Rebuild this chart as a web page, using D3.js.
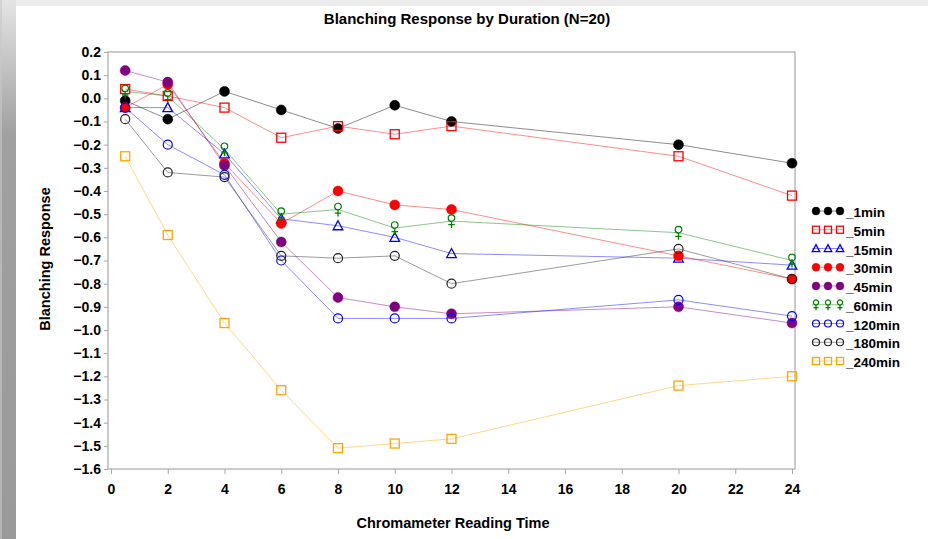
<!DOCTYPE html>
<html>
<head>
<meta charset="utf-8">
<script src="https://cdn.jsdelivr.net/npm/d3@7"></script>
<style>
  html, body { margin: 0; padding: 0; background: #fff; }
  svg { display: block; }
  text { font-family: "Liberation Sans", Arial, sans-serif; font-weight: bold; fill: #000; }
</style>
</head>
<body>
<svg id="chart" width="928" height="539"></svg>
<script>
// Reading times (hours) and mean blanching response per application duration
const readingTimes = [0.5, 2, 4, 6, 8, 10, 12, 20, 24];
const durations = ["_1min", "_5min", "_15min", "_30min", "_45min", "_60min", "_120min", "_180min", "_240min"];
const resp1min   = [-0.01, -0.09, 0.03, -0.05, -0.13, -0.03, -0.10, -0.20, -0.28];
const resp5min   = [0.04, 0.01, -0.04, -0.17, -0.12, -0.155, -0.12, -0.25, -0.42];
const resp15min  = [-0.04, -0.04, -0.24, -0.52, -0.55, -0.60, -0.67, -0.69, -0.72];
const resp30min  = [-0.04, 0.06, -0.28, -0.54, -0.40, -0.46, -0.48, -0.68, -0.78];
const resp45min  = [0.12, 0.07, -0.29, -0.62, -0.86, -0.90, -0.93, -0.90, -0.97];
const resp60min  = [0.03, 0.01, -0.22, -0.50, -0.48, -0.56, -0.53, -0.58, -0.70];
const resp120min = [-0.04, -0.20, -0.33, -0.70, -0.95, -0.95, -0.95, -0.87, -0.94];
const resp180min = [-0.09, -0.32, -0.34, -0.68, -0.69, -0.68, -0.80, -0.65, -0.78];
const resp240min = [-0.25, -0.59, -0.97, -1.26, -1.51, -1.49, -1.47, -1.24, -1.20];
const xTicks = [0, 2, 4, 6, 8, 10, 12, 14, 16, 18, 20, 22, 24];
const yTicks = d3.range(-16, 3).map(d => d / 10);

const seriesValues = [resp1min, resp5min, resp15min, resp30min, resp45min, resp60min, resp120min, resp180min, resp240min];
const seriesColors = ["#000000", "#ff0000", "#0000ff", "#ff0000", "#800080", "#008000", "#0000ff", "#222222", "#ffa500"];
const seriesSymbols = ["dot", "square", "triangle", "dot", "dot", "female", "circle", "circle", "square"];

const series = durations.map((name, i) => ({
  name, color: seriesColors[i], symbol: seriesSymbols[i],
  points: readingTimes.map((t, j) => ({ t, v: seriesValues[i][j] }))
}));

const svg = d3.select("#chart");

// Page frame: light top band and shaded left strip
const defs = svg.append("defs");
const grad = defs.append("linearGradient").attr("id", "strip").attr("x1", 0).attr("y1", 0).attr("x2", 0).attr("y2", 1);
grad.append("stop").attr("offset", "0").attr("stop-color", "#e4e4e4");
grad.append("stop").attr("offset", "0.25").attr("stop-color", "#a0a0a0");
grad.append("stop").attr("offset", "1").attr("stop-color", "#9a9a9a");
svg.append("rect").attr("x", 0).attr("y", 0).attr("width", 928).attr("height", 6).attr("fill", "#ececec");
svg.append("rect").attr("x", 0).attr("y", 0).attr("width", 16).attr("height", 539).attr("fill", "url(#strip)");
svg.append("rect").attr("x", 0).attr("y", 0).attr("width", 2).attr("height", 539).attr("fill", "#c8c8c8").attr("opacity", 0.6);

const box = { left: 108, right: 795, top: 52, bottom: 469 };
const x = d3.scaleLinear().domain([0, 24]).range([111, 792]);
const y = d3.scaleLinear().domain([-1.6, 0.2]).range([box.bottom, box.top]);

// Title and axis labels
svg.append("text").attr("x", 467).attr("y", 24).attr("text-anchor", "middle")
  .style("font-size", "15px").text("Blanching Response by Duration (N=20)");
svg.append("text").attr("x", 453).attr("y", 528).attr("text-anchor", "middle")
  .style("font-size", "14.5px").text("Chromameter Reading Time");
svg.append("text").attr("transform", "translate(50,259) rotate(-90)").attr("text-anchor", "middle")
  .style("font-size", "14.5px").text("Blanching Response");

// Plot frame
svg.append("rect").attr("x", box.left).attr("y", box.top)
  .attr("width", box.right - box.left).attr("height", box.bottom - box.top)
  .attr("fill", "none").attr("stroke", "#a8a8a8").attr("stroke-width", 1.2);

const fmtY = d => (d < 0 ? "\u2212" : "") + Math.abs(d).toFixed(1);

const gy = svg.append("g").attr("transform", `translate(${box.left},0)`)
  .call(d3.axisLeft(y).tickValues(yTicks).tickSize(4).tickPadding(3).tickFormat(fmtY));
const gx = svg.append("g").attr("transform", `translate(0,${box.bottom})`)
  .call(d3.axisBottom(x).tickValues(xTicks).tickSize(5).tickPadding(10).tickFormat(d3.format("d")));
[gy, gx].forEach(g => {
  g.select(".domain").remove();
  g.selectAll(".tick line").attr("stroke", "#a8a8a8");
  g.selectAll(".tick text").style("font-size", "14px").style("font-family", "'Liberation Sans', Arial, sans-serif")
    .style("font-weight", "bold").attr("fill", "#000");
});

// Marker drawing (k scales the symbol size)
function drawMarker(g, symbol, color, k) {
  if (symbol === "dot") {
    g.append("circle").attr("r", 5 * k).attr("fill", color).attr("stroke", color).attr("stroke-width", 0.5);
  } else if (symbol === "circle") {
    g.append("circle").attr("r", 4.5 * k).attr("fill", "none").attr("stroke", color).attr("stroke-width", 1.2);
  } else if (symbol === "square") {
    g.append("rect").attr("x", -4.5 * k).attr("y", -4.5 * k).attr("width", 9 * k).attr("height", 9 * k)
      .attr("fill", "none").attr("stroke", color).attr("stroke-width", 1.3);
  } else if (symbol === "triangle") {
    g.append("path").attr("d", `M0,${-5 * k}L${4.8 * k},${4 * k}L${-4.8 * k},${4 * k}Z`)
      .attr("fill", "none").attr("stroke", color).attr("stroke-width", 1.3);
  } else if (symbol === "female") {
    g.append("circle").attr("cy", -3 * k).attr("r", 3.3 * k).attr("fill", "none").attr("stroke", color).attr("stroke-width", 1.2);
    g.append("path").attr("d", `M0,${0.3 * k}V${7 * k}M${-3.2 * k},${3.6 * k}H${3.2 * k}`)
      .attr("fill", "none").attr("stroke", color).attr("stroke-width", 1.3);
  }
}

const line = d3.line().x(d => x(d.t)).y(d => y(d.v));

series.forEach(s => {
  svg.append("path").datum(s.points).attr("d", line)
    .attr("fill", "none").attr("stroke", s.color).attr("stroke-opacity", 0.45).attr("stroke-width", 1);
});
series.forEach(s => {
  s.points.forEach(p => {
    const g = svg.append("g").attr("transform", `translate(${x(p.t)},${y(p.v)})`);
    drawMarker(g, s.symbol, s.color, 1);
  });
});

// Legend
const legendY = d3.scalePoint().domain(durations).range([211, 361]);
series.forEach(s => {
  const ly = legendY(s.name);
  svg.append("line").attr("x1", 812).attr("x2", 844).attr("y1", ly).attr("y2", ly)
    .attr("stroke", s.color).attr("stroke-opacity", 0.45);
  [816, 828, 840].forEach(lx => {
    const g = svg.append("g").attr("transform", `translate(${lx},${ly})`);
    drawMarker(g, s.symbol, s.color, 0.78);
  });
  svg.append("text").attr("x", 846).attr("y", ly + 6).style("font-size", "13.5px").text(s.name);
});
</script>
</body>
</html>
